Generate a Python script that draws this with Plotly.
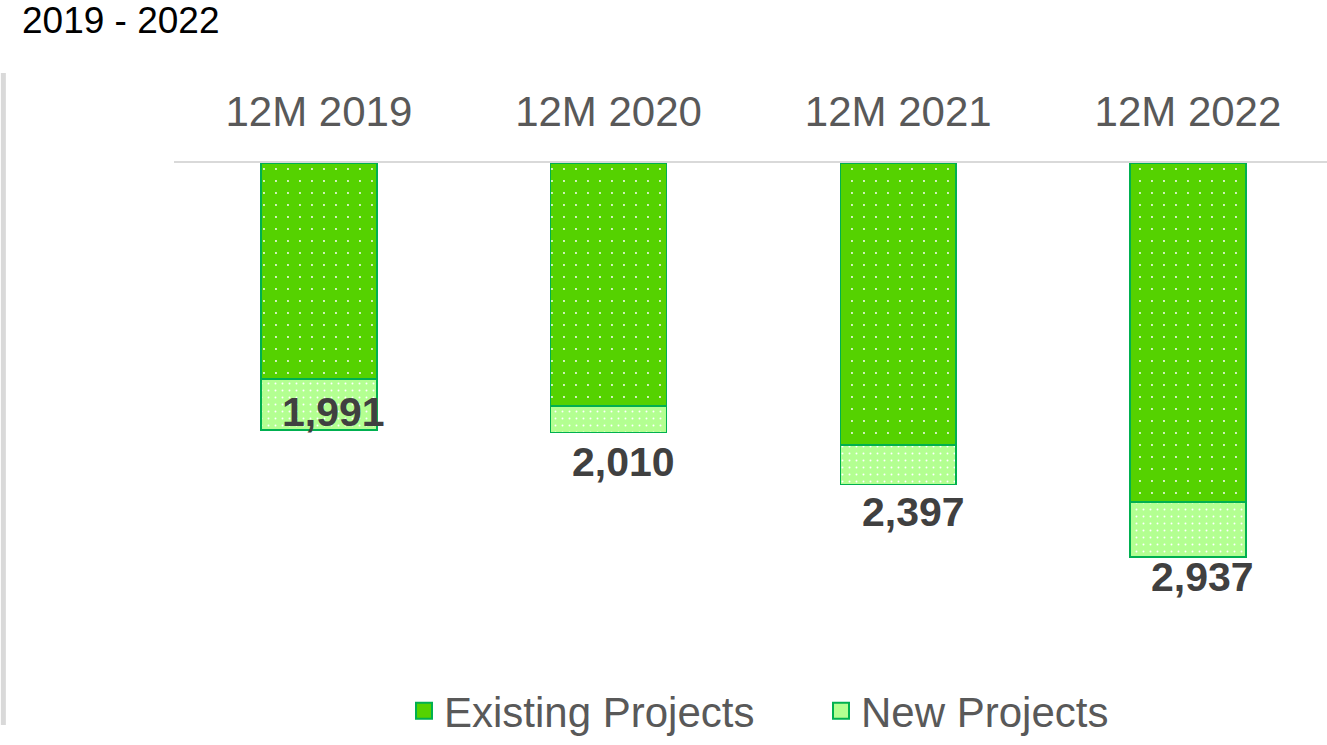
import plotly.graph_objects as go

# data
periods = ["12M 2019", "12M 2020", "12M 2021", "12M 2022"]
existing = [1610, 1811, 2102, 2527]
new = [381, 199, 295, 410]
totals = [1991, 2010, 2397, 2937]

# label nudges (px), the source chart placed them unevenly
label_dy = [18, -29, -27, -20]

EXIST_C = "#55D200"
NEW_C = "#B3FF91"
EDGE_C = "#00B050"

fig = go.Figure()

fig.add_trace(go.Bar(
    x=periods, y=existing, name="Existing Projects", showlegend=False,
    marker=dict(
        color=EXIST_C,
        line=dict(color=EDGE_C, width=1.5),
        pattern=dict(shape=".", fgcolor="white", bgcolor=EXIST_C,
                     fgopacity=1, size=12, solidity=0.02),
    ),
))
fig.add_trace(go.Bar(
    x=periods, y=new, name="New Projects", showlegend=False,
    marker=dict(
        color=NEW_C,
        line=dict(color=EDGE_C, width=1.5),
        pattern=dict(shape=".", fgcolor="white", bgcolor=NEW_C,
                     fgopacity=1, size=7, solidity=0.06),
    ),
))

# bigger legend swatches than plotly's bar boxes
for name, col in [("Existing Projects", EXIST_C), ("New Projects", NEW_C)]:
    fig.add_trace(go.Scatter(
        x=[None], y=[None], mode="markers", name=name,
        marker=dict(symbol="square", size=20, color=col,
                    line=dict(color=EDGE_C, width=2)),
    ))

# total labels under each stack
for p, t, dy in zip(periods, totals, label_dy):
    fig.add_annotation(
        x=p, y=t, text=f"<b>{t:,}</b>", showarrow=False,
        xshift=15, yshift=dy, yanchor="middle",
        font=dict(size=41, color="#404040", family="Arial"),
    )

# grey bar on the left edge
fig.add_shape(
    type="line", xref="paper", yref="paper",
    x0=-0.148, x1=-0.148, y0=1.185, y1=-0.154,
    line=dict(color="#D9D9D9", width=5),
)

fig.update_layout(
    width=1327, height=745,
    margin=dict(l=174, r=0, t=163, b=95),
    paper_bgcolor="white", plot_bgcolor="white",
    barmode="stack", bargap=0.6,
    font=dict(family="Arial", color="#595959"),
    title=dict(
        text="2019 - 2022", x=22 / 1327, xanchor="left",
        y=1 - 20 / 745, yanchor="middle",
        font=dict(size=37, color="black", family="Arial"),
    ),
    xaxis=dict(
        side="top", showline=True, linecolor="#D9D9D9", linewidth=2,
        ticks="outside", ticklen=18, tickcolor="rgba(0,0,0,0)",
        tickfont=dict(size=42, color="#595959"),
        showgrid=False, range=[-0.5, 3.48],
    ),
    yaxis=dict(visible=False, range=[3630, 0]),
    legend=dict(
        orientation="h", xref="container", x=404 / 1327, xanchor="left",
        yref="container", y=1 - 711 / 745, yanchor="middle",
        font=dict(size=42, color="#595959"),
        entrywidth=372, traceorder="normal",
    ),
    showlegend=True,
)

# drop the page's default body margin so the figure sits at 0,0
fig.write_html(
    "out.html",
    config={"displayModeBar": False},
    post_script="document.body.style.margin='0px';",
)
